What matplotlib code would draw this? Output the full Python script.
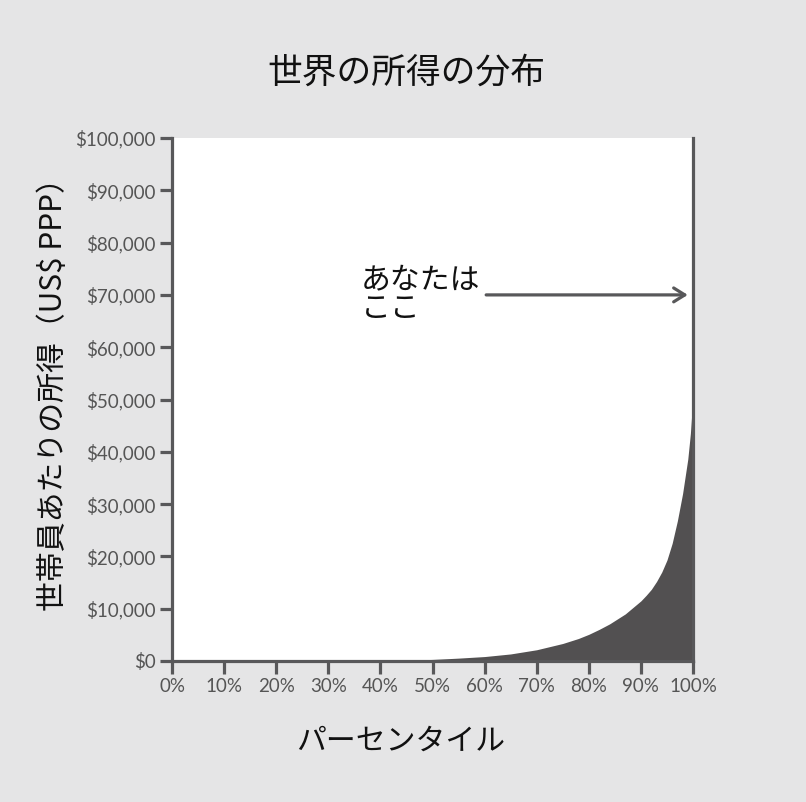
import matplotlib
matplotlib.use("Agg")
import matplotlib.pyplot as plt
from matplotlib.ticker import FuncFormatter

percentile = [0, 10, 20, 30, 40, 45, 50, 55, 60, 65, 70, 75, 78, 80, 82, 84,
              87, 90, 91, 92, 93, 94, 95, 96, 97, 98, 99, 99.5, 99.8, 100]
income = [0, 0, 0, 0, 50, 120, 300, 550, 850, 1350, 2150, 3350, 4300, 5100,
          6050, 7100, 9000, 11500, 12550, 13700, 15200, 17000, 19300, 22500,
          26800, 32000, 38600, 43500, 47800, 51000]

yticks = list(range(0, 100001, 10000))
xticks = list(range(0, 101, 10))

title = "世界の所得の分布"
xlabel = "パーセンタイル"
ylabel = "世帯員あたりの所得（US$ PPP）"
note = "あなたは\nここ"
note_y = 70000

BG = "#e5e5e6"
DARK = "#58585a"
FILL = "#525051"
CJK = ["Noto Sans CJK JP", "DejaVu Sans"]

fig = plt.figure(figsize=(8.06, 8.02), dpi=100, facecolor=BG)
ax = fig.add_axes([172/806, 1-661/802, (693-172)/806, (661-138)/802])
ax.set_facecolor("white")

ax.fill_between(percentile, income, 0, color=FILL, lw=0)
ax.set_xlim(0, 100)
ax.set_ylim(0, 100000)

ax.spines["top"].set_visible(False)
for s in ["left", "right", "bottom"]:
    ax.spines[s].set_color(DARK)
    ax.spines[s].set_linewidth(2.3)

ax.set_yticks(yticks)
ax.set_xticks(xticks)
ax.yaxis.set_major_formatter(FuncFormatter(lambda v, p: f"${int(v):,}"))
ax.xaxis.set_major_formatter(FuncFormatter(lambda v, p: f"{int(v)}%"))
ax.tick_params(axis="both", direction="out", length=9, width=2.3, color=DARK,
               labelcolor="#555555", labelsize=13.5, pad=3)
for lab in ax.get_xticklabels() + ax.get_yticklabels():
    lab.set_family(["Lato", "DejaVu Sans"])

fig.text(406/806, 1-73/802, title, ha="center", va="center", fontsize=25,
         family=CJK, color="#111111")
ax.set_xlabel(xlabel, fontsize=21.5, family=CJK, color="#111111")
ax.xaxis.label.set_va("center")
ax.xaxis.set_label_coords((401-172)/521, (661-741)/523)
ax.set_ylabel(ylabel, fontsize=21.5, family=CJK, color="#111111")
ax.yaxis.label.set_va("center")
ax.yaxis.set_label_coords((54-172)/521, (661-387)/523)

ax.text(36.3, 75800, note, ha="left", va="top", fontsize=21.5, family=CJK,
        color="#111111", linespacing=0.88)
ax.annotate("", xy=(99.0, note_y), xytext=(60.3, note_y),
            arrowprops=dict(arrowstyle="->,head_length=0.8,head_width=0.5",
                            color=DARK, lw=2.3, shrinkA=0, shrinkB=0))

fig.savefig("out.png", dpi=100, facecolor=BG)
